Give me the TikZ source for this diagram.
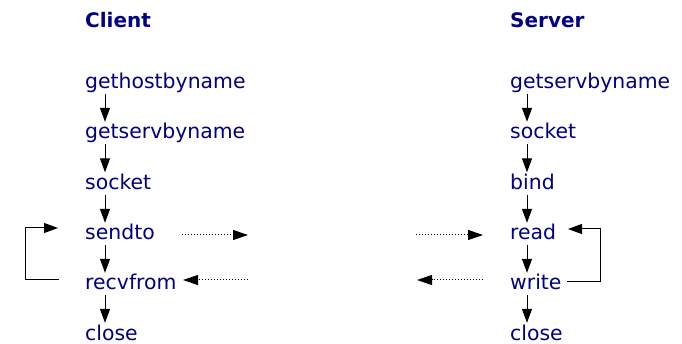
\documentclass[tikz,border=0pt]{standalone}
\usepackage{fontspec}
\setmainfont{DejaVu Sans}
\usetikzlibrary{arrows.meta}
\definecolor{navy}{RGB}{0,0,128}
\begin{document}
\begin{tikzpicture}[x=1pt,y=1pt,
  lbl/.style={anchor=base west,inner sep=0pt,text height=17pt,text depth=5pt,text=navy,font=\fontsize{20.4}{24}\selectfont},
  ttl/.style={anchor=base west,inner sep=0pt,text=navy,font=\fontsize{20}{24}\selectfont\bfseries},
  flow/.style={-{Triangle[length=14pt,width=10pt]},line width=1pt,black},
  msg/.style={-{Triangle[length=15pt,width=10pt]},line width=1pt,black,dash pattern=on 1.2pt off 1.8pt},
  loopline/.style={-{Triangle[length=14pt,width=10pt]},line width=1pt,black}]
\useasboundingbox (0,0) rectangle (682,-344);
% titles
\node[ttl] (ct) at (85,-28) {Client};
\node[ttl] (st) at (510,-28) {Server};
% client column
\node[lbl] (c1) at (85,-89) {gethostbyname};
\node[lbl] (c2) at (85,-139) {getservbyname};
\node[lbl] (c3) at (85,-189.5) {socket};
\node[lbl] (c4) at (85,-240) {sendto};
\node[lbl] (c5) at (85,-290) {recvfrom};
\node[lbl] (c6) at (85,-340) {close};
% server column
\node[lbl] (s1) at (510,-89) {getservbyname};
\node[lbl] (s2) at (510,-139) {socket};
\node[lbl] (s3) at (510,-189.5) {bind};
\node[lbl] (s4) at (510,-240) {read};
\node[lbl] (s5) at (510,-290) {write};
\node[lbl] (s6) at (510,-340) {close};
% vertical flow arrows
\foreach \a/\b in {c1/c2,c2/c3,c3/c4,c4/c5,c5/c6}
  \draw[flow] ([xshift=20pt]\a.south west) -- ([xshift=20pt]\b.north west);
\foreach \a/\b in {s1/s2,s2/s3,s3/s4,s4/s5,s5/s6}
  \draw[flow] ([xshift=17pt]\a.south west) -- ([xshift=17pt]\b.north west);
% message arrows
\coordinate (m1a) at (182,-235);
\coordinate (m1b) at (248,-235);
\coordinate (m2a) at (248,-280);
\coordinate (m2b) at (183,-280);
\coordinate (m3a) at (416,-235);
\coordinate (m3b) at (483,-235);
\coordinate (m4a) at (483,-280);
\coordinate (m4b) at (417,-280);
\draw[msg] (m1a) -- (m1b);
\draw[msg] (m2a) -- (m2b);
\draw[msg] (m3a) -- (m3b);
\draw[msg] (m4a) -- (m4b);
% loops
\coordinate (cl1) at (59,-280);
\coordinate (cl2) at (25,-280);
\coordinate (cl3) at (25,-228);
\coordinate (cl4) at (58,-228);
\draw[loopline] (cl1) -- (cl2) -- (cl3) -- (cl4);
\coordinate (sl1) at (567,-282);
\coordinate (sl2) at (600,-282);
\coordinate (sl3) at (600,-229);
\coordinate (sl4) at (568,-229);
\draw[loopline] (sl1) -- (sl2) -- (sl3) -- (sl4);
\end{tikzpicture}
\end{document}
